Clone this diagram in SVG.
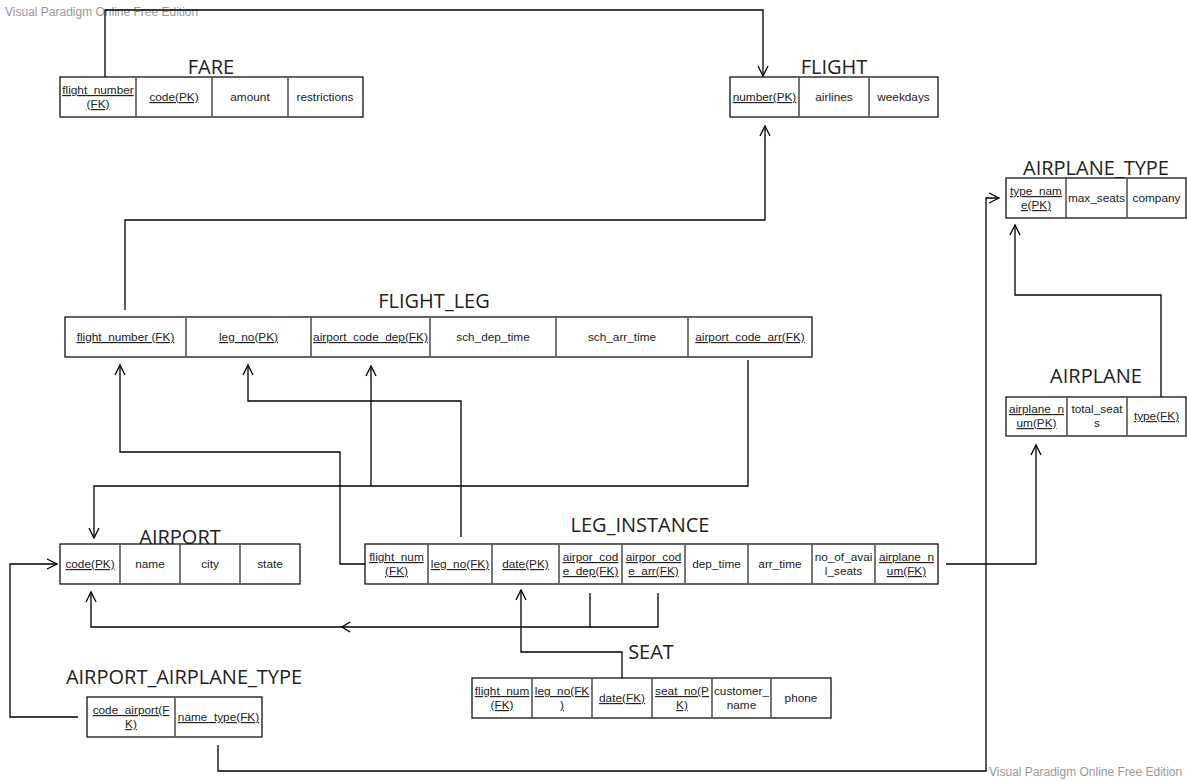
<svg xmlns="http://www.w3.org/2000/svg" width="1187" height="782" viewBox="0 0 1187 782">
<defs>
<marker id="arr" markerUnits="userSpaceOnUse" markerWidth="12" markerHeight="12" refX="10" refY="5" orient="auto" overflow="visible">
<path d="M0,0 L10,5 L0,10" fill="none" stroke="#000" stroke-width="1.3"/>
</marker>
<style>
.tb{fill:#fff;stroke:#111;stroke-width:1.3}
.dv{stroke:#555;stroke-width:1.6}
.t{font-family:"Liberation Sans",Arial,sans-serif;font-size:11.8px;fill:#222;text-anchor:middle}
.u{text-decoration:underline}
.ti{font-family:"Open Sans","Noto Sans",sans-serif;font-size:20px;fill:#222;text-anchor:middle}
.wm{font-family:"Liberation Sans",Arial,sans-serif;font-size:12px;fill:#999}
.c{fill:none;stroke:#000;stroke-width:1.3}
</style>
</defs>
<rect width="1187" height="782" fill="#fff"/>
<text class="wm" x="5" y="16">Visual Paradigm Online Free Edition</text>
<text class="wm" x="989" y="776">Visual Paradigm Online Free Edition</text>

<g id="connectors">
<path class="c" d="M105,78 V10 H763 V76" marker-end="url(#arr)"/>
<path class="c" d="M125,310 V220 H765 V126" marker-end="url(#arr)"/>
<path class="c" d="M218,745 V771 H986 V198 H999" marker-end="url(#arr)"/>
<path class="c" d="M1161,397 V295 H1015 V225" marker-end="url(#arr)"/>
<path class="c" d="M946,564 H1036 V445" marker-end="url(#arr)"/>
<path class="c" d="M365,564 H340 V452 H120 V365" marker-end="url(#arr)"/>
<path class="c" d="M461,537 V401 H248 V365" marker-end="url(#arr)"/>
<path class="c" d="M748,360 V486 H94 V538" marker-end="url(#arr)"/>
<path class="c" d="M371,486 V366" marker-end="url(#arr)"/>
<path class="c" d="M590,593 V627 H91 V592" marker-end="url(#arr)"/>
<path class="c" d="M658,593 V627 H590"/>
<path class="c" d="M350,622 L342,627 L350,632"/>
<path class="c" d="M622,678 V652 H521 V590" marker-end="url(#arr)"/>
<path class="c" d="M78,717 H10 V564 H57" marker-end="url(#arr)"/>
</g>

<g id="fare">
<text class="ti" x="211" y="74">FARE</text>
<rect class="tb" x="60" y="77" width="303" height="40"/>
<path class="dv" d="M136,77V117M212,77V117M288,77V117"/>
<text class="t u" x="98" y="94">flight_number</text>
<text class="t u" x="98" y="108">(FK)</text>
<text class="t u" x="174" y="101">code(PK)</text>
<text class="t" x="250" y="101">amount</text>
<text class="t" x="325" y="101">restrictions</text>
</g>

<g id="flight">
<text class="ti" x="834" y="74">FLIGHT</text>
<rect class="tb" x="730" y="77" width="208" height="40"/>
<path class="dv" d="M799,77V117M869,77V117"/>
<text class="t u" x="764.5" y="101">number(PK)</text>
<text class="t" x="834" y="101">airlines</text>
<text class="t" x="903.5" y="101">weekdays</text>
</g>

<g id="airplane_type">
<text class="ti" x="1096" y="175">AIRPLANE_TYPE</text>
<rect class="tb" x="1006" y="178" width="180" height="40"/>
<path class="dv" d="M1066,178V218M1127,178V218"/>
<text class="t u" x="1036" y="195">type_nam</text>
<text class="t u" x="1036" y="209">e(PK)</text>
<text class="t" x="1096.5" y="202">max_seats</text>
<text class="t" x="1156.5" y="202">company</text>
</g>

<g id="airplane">
<text class="ti" x="1096" y="383">AIRPLANE</text>
<rect class="tb" x="1006" y="397" width="180" height="39"/>
<path class="dv" d="M1067,397V436M1127,397V436"/>
<text class="t u" x="1036.5" y="413">airplane_n</text>
<text class="t u" x="1036.5" y="427">um(PK)</text>
<text class="t" x="1097" y="413">total_seat</text>
<text class="t" x="1097" y="427">s</text>
<text class="t u" x="1156.5" y="420">type(FK)</text>
</g>

<g id="flight_leg">
<text class="ti" x="434" y="308">FLIGHT_LEG</text>
<rect class="tb" x="65" y="317" width="747" height="40"/>
<path class="dv" d="M186,317V357M311,317V357M430,317V357M556,317V357M688,317V357"/>
<text class="t u" x="125.5" y="341">flight_number (FK)</text>
<text class="t u" x="248.5" y="341">leg_no(PK)</text>
<text class="t u" x="370.5" y="341">airport_code_dep(FK)</text>
<text class="t" x="493" y="341">sch_dep_time</text>
<text class="t" x="622" y="341">sch_arr_time</text>
<text class="t u" x="750" y="341">airport_code_arr(FK)</text>
</g>

<g id="airport">
<text class="ti" x="180" y="544">AIRPORT</text>
<rect class="tb" x="60" y="544" width="240" height="40"/>
<path class="dv" d="M120,544V584M180,544V584M240,544V584"/>
<text class="t u" x="90" y="568">code(PK)</text>
<text class="t" x="150" y="568">name</text>
<text class="t" x="210" y="568">city</text>
<text class="t" x="270" y="568">state</text>
</g>

<g id="leg_instance">
<text class="ti" x="640" y="532">LEG_INSTANCE</text>
<rect class="tb" x="365" y="544" width="573" height="40"/>
<path class="dv" d="M428,544V584M492,544V584M559,544V584M622,544V584M685,544V584M748,544V584M812,544V584M875,544V584"/>
<text class="t u" x="396.5" y="561">flight_num</text>
<text class="t u" x="396.5" y="575">(FK)</text>
<text class="t u" x="460" y="568">leg_no(FK)</text>
<text class="t u" x="525.5" y="568">date(PK)</text>
<text class="t u" x="590.5" y="561">airpor_cod</text>
<text class="t u" x="590.5" y="575">e_dep(FK)</text>
<text class="t u" x="653.5" y="561">airpor_cod</text>
<text class="t u" x="653.5" y="575">e_arr(FK)</text>
<text class="t" x="716.5" y="568">dep_time</text>
<text class="t" x="780" y="568">arr_time</text>
<text class="t" x="843.5" y="561">no_of_avai</text>
<text class="t" x="843.5" y="575">l_seats</text>
<text class="t u" x="906.5" y="561">airplane_n</text>
<text class="t u" x="906.5" y="575">um(FK)</text>
</g>

<g id="seat">
<text class="ti" x="651" y="659">SEAT</text>
<rect class="tb" x="472" y="678" width="359" height="40"/>
<path class="dv" d="M532,678V718M592,678V718M652,678V718M712,678V718M771,678V718"/>
<text class="t u" x="502" y="695">flight_num</text>
<text class="t u" x="502" y="709">(FK)</text>
<text class="t u" x="562" y="695">leg_no(FK</text>
<text class="t u" x="562" y="709">)</text>
<text class="t u" x="622" y="702">date(FK)</text>
<text class="t u" x="682" y="695">seat_no(P</text>
<text class="t u" x="682" y="709">K)</text>
<text class="t" x="741.5" y="695">customer_</text>
<text class="t" x="741.5" y="709">name</text>
<text class="t" x="801" y="702">phone</text>
</g>

<g id="airport_airplane_type">
<text class="ti" x="184" y="684">AIRPORT_AIRPLANE_TYPE</text>
<rect class="tb" x="87" y="697" width="175" height="40"/>
<path class="dv" d="M175,697V737"/>
<text class="t u" x="131" y="714">code_airport(F</text>
<text class="t u" x="131" y="728">K)</text>
<text class="t u" x="218.5" y="721">name_type(FK)</text>
</g>
</svg>
